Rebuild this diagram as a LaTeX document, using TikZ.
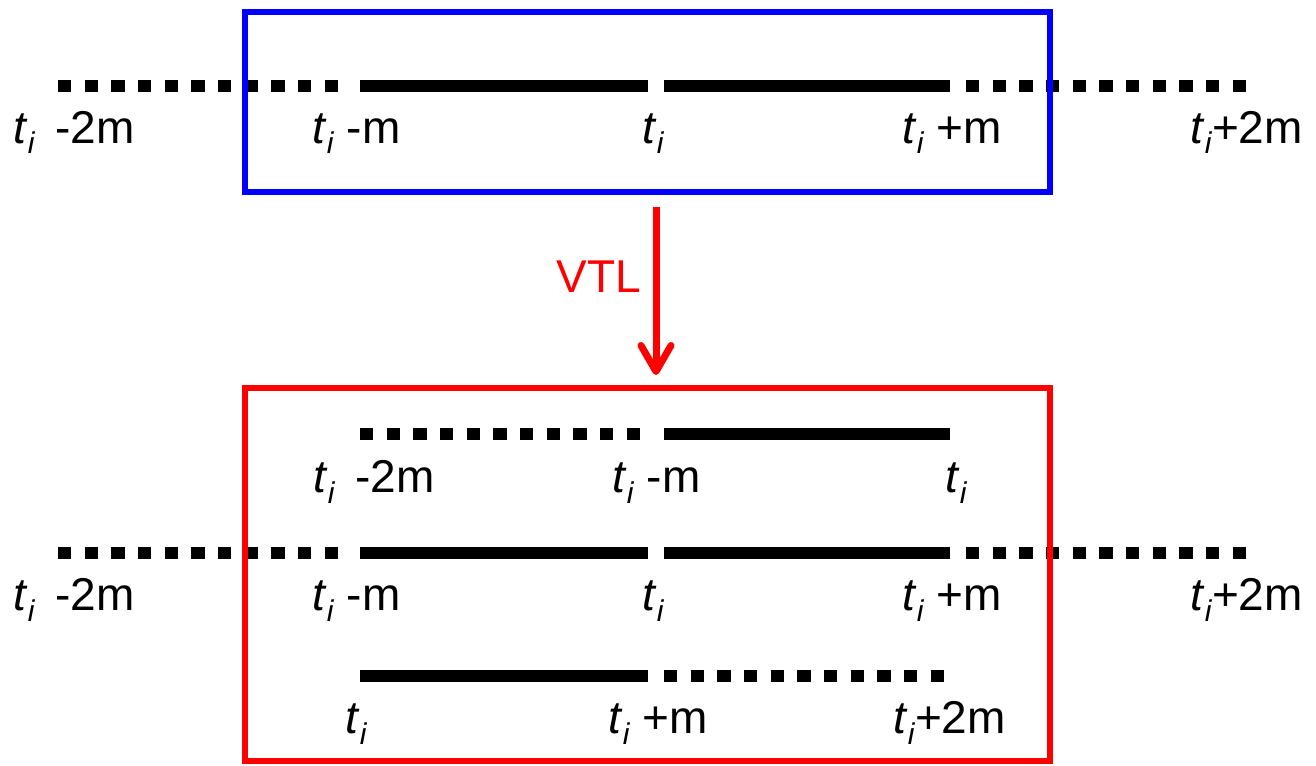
\documentclass[tikz,border=0pt]{standalone}
\usepackage{fontspec}
\setmainfont{Liberation Sans}
\usetikzlibrary{arrows.meta}
% t with an italic subscript i
\newcommand\tsub{\textit{t}\raisebox{-5.5pt}{\fontsize{15}{15}\selectfont\textit{i}}}
\begin{document}
\begin{tikzpicture}[x=0.5pt, y=-0.5pt,
  solidseg/.style={line width=6pt, black},
  dotseg/.style={line width=6pt, black, dash pattern=on 6.667pt off 6.667pt},
  frame/.style={line width=3pt, inner sep=0, minimum width=402.5pt},
  lab/.style={anchor=base west, inner sep=0, font=\fontsize{23}{27}\selectfont},
  vtlarrow/.style={red, line width=3.5pt, -{Straight Barb[length=13pt, width=15pt, round]}}]
\useasboundingbox (0,0) rectangle (1316,765);

% full window, drawn at a given height
\newcommand\fullrow[2]{%
  \coordinate (#1a) at (58,#2);  \coordinate (#1b) at (338,#2);
  \coordinate (#1c) at (360,#2); \coordinate (#1d) at (648,#2);
  \coordinate (#1e) at (664,#2); \coordinate (#1f) at (950,#2);
  \coordinate (#1g) at (966,#2); \coordinate (#1h) at (1246,#2);
  \draw[dotseg] (#1a) -- (#1b);
  \draw[solidseg] (#1c) -- (#1d);
  \draw[solidseg] (#1e) -- (#1f);
  \draw[dotseg] (#1g) -- (#1h);
  \node[lab] (#1l1) at (13,\the\numexpr#2+57\relax) {\tsub\hspace{10pt}-2m};
  \node[lab] (#1l2) at (312,\the\numexpr#2+57\relax) {\tsub\ -m};
  \node[lab] (#1l3) at (642,\the\numexpr#2+57\relax) {\tsub};
  \node[lab] (#1l4) at (902,\the\numexpr#2+57\relax) {\tsub\ +m};
  \node[lab] (#1l5) at (1190,\the\numexpr#2+57\relax) {\tsub+2m};
}

% original window
\fullrow{top}{86}

% shifted windows
\fullrow{mid}{553}

\coordinate (upA) at (360,434); \coordinate (upB) at (640,434);
\coordinate (upC) at (664,434); \coordinate (upD) at (950,434);
\draw[dotseg] (upA) -- (upB);
\draw[solidseg] (upC) -- (upD);
\node[lab] (upl1) at (313,492) {\tsub\hspace{10pt}-2m};
\node[lab] (upl2) at (612,492) {\tsub\ -m};
\node[lab] (upl3) at (945,492) {\tsub};

\coordinate (dnA) at (360,676); \coordinate (dnB) at (648,676);
\coordinate (dnC) at (664,676); \coordinate (dnD) at (944,676);
\draw[solidseg] (dnA) -- (dnB);
\draw[dotseg] (dnC) -- (dnD);
\node[lab] (dnl1) at (345,733) {\tsub};
\node[lab] (dnl2) at (608,733) {\tsub\ +m};
\node[lab] (dnl3) at (893,733) {\tsub+2m};

% frames
\node[frame, draw=blue, minimum height=90pt] (blue) at (647.5,102) {};
\node[frame, draw=red, minimum height=186.5pt] (redbox) at (647.5,574.5) {};

% transformation arrow
\coordinate (arrtop) at (656,207);
\coordinate (arrtip) at (656,375);
\draw[vtlarrow] (arrtop) -- (arrtip);
\node[red, inner sep=0, font=\fontsize{23}{27}\selectfont] (vtl) at (599,277) {VTL};
\end{tikzpicture}
\end{document}
